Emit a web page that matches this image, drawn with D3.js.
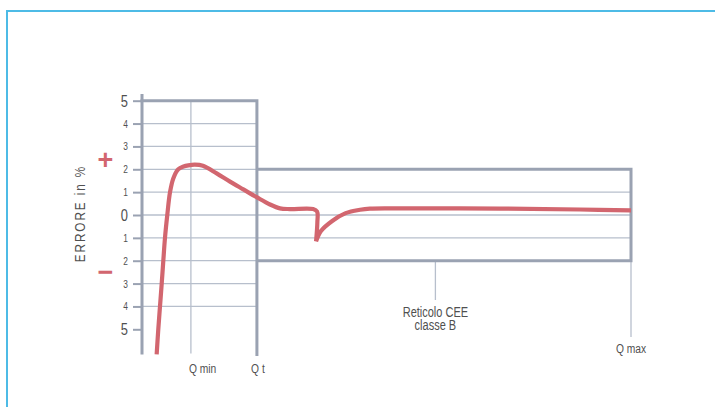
<!DOCTYPE html>
<html>
<head>
<meta charset="utf-8">
<script src="https://cdn.jsdelivr.net/npm/d3@7"></script>
<style>
  html, body { margin: 0; padding: 0; background: #fff; }
  svg { display: block; }
  .lbl { font-family: "Liberation Sans", Arial, sans-serif; fill: #505050; }
</style>
</head>
<body>
<svg id="chart" width="715" height="407"></svg>
<script>
// Error scale (percent) and its tick labels (signs are shown by the red + / − markers)
const errorTicks = [5, 4, 3, 2, 1, 0, -1, -2, -3, -4, -5];
const tickLabels = ["5", "4", "3", "2", "1", "0", "1", "2", "3", "4", "5"];
const bigTicks = [5, 0, -5];

// Characteristic flow rates (relative flow, Qmax = 100)
const markerNames = ["Q min", "Q t", "Q max"];
const markerFlows = [10, 23.5, 100];

// Tolerance zones: ±5 % below Qt, ±2 % from Qt to Qmax
const zoneStart = [0, 23.5];
const zoneEnd = [23.5, 100];
const zoneLimit = [5, 2];
const zoneName = ["Reticolo CEE", "classe B"];
const zoneLabelFlow = 60;

// Meter error curve, up to the sharp dip
const curveFlowA = [3.0, 3.33, 3.68, 4.03, 4.36, 4.70, 5.17, 5.73, 6.40, 7.42, 8.5, 9.47, 10.8, 12.45, 15.27, 18.0, 20.72, 23.45, 26.18, 28.22, 30.27, 35.0, 35.8, 35.86, 35.6];
const curveErrA = [-6.1, -5, -4, -3, -2, -1, 0, 1, 1.6, 2.0, 2.12, 2.17, 2.2, 2.15, 1.82, 1.46, 1.12, 0.78, 0.46, 0.29, 0.26, 0.26, 0.15, -0.32, -1.15];
// ...and the recovery after the dip up to Qmax
const curveFlowB = [35.6, 36.6, 38.9, 41.65, 44.6, 46.6, 52.76, 73.21, 89.57, 100];
const curveErrB = [-1.15, -0.7, -0.26, 0.08, 0.23, 0.28, 0.29, 0.28, 0.24, 0.2];

const gridThick = "#9aa2b2";
const gridThin = "#b7bfcc";
const curveColor = "#d2666f";
const frameColor = "#4dbbe6";
const narrow = 0.76;   // horizontal squeeze for the condensed lettering

const svg = d3.select("#chart");

// Condensed label: text squeezed horizontally around its anchor point
function label(parent, x, y, txt, size, anchor, extra) {
  return parent.append("text")
    .attr("class", "lbl")
    .attr("transform", `translate(${x},${y}) ${extra || ""} scale(${narrow},1)`)
    .attr("text-anchor", anchor || "start")
    .style("font-size", size + "px")
    .text(txt);
}

// Outer frame (top and left edges)
svg.append("path")
  .attr("d", "M7,407 V11 H715")
  .attr("fill", "none")
  .attr("stroke", frameColor)
  .attr("stroke-width", 2);

const x = d3.scaleLinear().domain([0, 100]).range([142, 631]);
const y = d3.scaleLinear().domain([-5, 5]).range([329.3, 100.7]);
const yBottom = y(-6.15);

const g = svg.append("g");

// Thin grid lines: full range in the first zone, ±1 band across the second
errorTicks.forEach(v => {
  if (Math.abs(v) === zoneLimit[0]) return;
  const x2 = Math.abs(v) < zoneLimit[1] ? x(zoneEnd[1]) : x(zoneEnd[0]);
  g.append("line")
    .attr("x1", x(0)).attr("x2", x2)
    .attr("y1", y(v)).attr("y2", y(v))
    .attr("stroke", gridThin).attr("stroke-width", 1.3);
});

// Q min vertical
g.append("line")
  .attr("x1", x(markerFlows[0])).attr("x2", x(markerFlows[0]))
  .attr("y1", y(5)).attr("y2", yBottom - 2)
  .attr("stroke", gridThin).attr("stroke-width", 1.3);

// Leader lines to the zone label and to Q max
g.append("line")
  .attr("x1", x(zoneLabelFlow)).attr("x2", x(zoneLabelFlow))
  .attr("y1", y(-2)).attr("y2", 300)
  .attr("stroke", gridThin).attr("stroke-width", 1.3);
g.append("line")
  .attr("x1", x(markerFlows[2])).attr("x2", x(markerFlows[2]))
  .attr("y1", y(-2)).attr("y2", 337)
  .attr("stroke", gridThin).attr("stroke-width", 1.3);

// Tolerance zone outlines
const zonePath = d3.path();
zonePath.moveTo(x(zoneStart[0]), y(zoneLimit[0]));
zonePath.lineTo(x(zoneEnd[0]), y(zoneLimit[0]));
zonePath.lineTo(x(zoneEnd[0]), yBottom - 1);
zonePath.moveTo(x(zoneStart[1]), y(zoneLimit[1]));
zonePath.lineTo(x(zoneEnd[1]), y(zoneLimit[1]));
zonePath.lineTo(x(zoneEnd[1]), y(-zoneLimit[1]));
zonePath.lineTo(x(zoneStart[1]), y(-zoneLimit[1]));
g.append("path")
  .attr("d", zonePath.toString())
  .attr("fill", "none")
  .attr("stroke", gridThick)
  .attr("stroke-width", 3)
  .attr("stroke-linejoin", "miter")
  .attr("stroke-linecap", "square");

// Error axis ticks (labels are set separately in condensed lettering)
const axis = d3.axisLeft(y)
  .tickValues(errorTicks)
  .tickFormat("")
  .tickSize(9);
const ax = g.append("g").attr("transform", `translate(${x(0)},0)`).call(axis);
ax.select(".domain").remove();
ax.selectAll(".tick line").attr("stroke", gridThick).attr("stroke-width", 2);

errorTicks.forEach((v, i) => {
  const big = bigTicks.includes(v);
  label(g, 128, y(v) + (big ? 6 : 4), tickLabels[i], big ? 17 : 11, "end");
});

g.append("line")
  .attr("x1", x(0)).attr("x2", x(0))
  .attr("y1", 94).attr("y2", yBottom - 1)
  .attr("stroke", gridThick).attr("stroke-width", 3);

// Error curve: two smooth pieces meeting in a sharp cusp
const line = d3.line()
  .x(d => x(d[0]))
  .y(d => y(d[1]))
  .curve(d3.curveCatmullRom.alpha(0.5));
const partA = curveFlowA.map((f, i) => [f, curveErrA[i]]);
const partB = curveFlowB.map((f, i) => [f, curveErrB[i]]);
const dA = line(partA);
const dB = line(partB).replace(/^M[^A-Za-z]*/, "");
g.append("path")
  .attr("d", dA + dB)
  .attr("fill", "none")
  .attr("stroke", curveColor)
  .attr("stroke-width", 4.2)
  .attr("stroke-linejoin", "miter")
  .attr("stroke-linecap", "butt");

// Axis title and sign markers
label(svg, 85, 213.5, "ERRORE in %", 15.5, "middle", "rotate(-90)")
  .style("letter-spacing", "2.5px");

svg.append("text")
  .attr("x", 105.5).attr("y", 169)
  .attr("text-anchor", "middle")
  .style("font-family", "Liberation Sans, sans-serif")
  .style("font-weight", "bold")
  .style("font-size", "27px")
  .attr("fill", curveColor)
  .text("+");
svg.append("text")
  .attr("x", 105.5).attr("y", 281)
  .attr("text-anchor", "middle")
  .style("font-family", "Liberation Sans, sans-serif")
  .style("font-weight", "bold")
  .style("font-size", "27px")
  .attr("fill", curveColor)
  .text("−");

// Flow labels
label(svg, x(markerFlows[0]) - 2, 373, markerNames[0], 13.5, "start");
label(svg, x(markerFlows[1]) + 1, 373, markerNames[1], 13.5, "middle");
label(svg, x(markerFlows[2]), 353, markerNames[2], 13.5, "middle");

// Tolerance zone name
label(svg, x(zoneLabelFlow), 317, zoneName[0], 14.5, "middle");
label(svg, x(zoneLabelFlow), 329.5, zoneName[1], 14.5, "middle");
</script>
</body>
</html>
